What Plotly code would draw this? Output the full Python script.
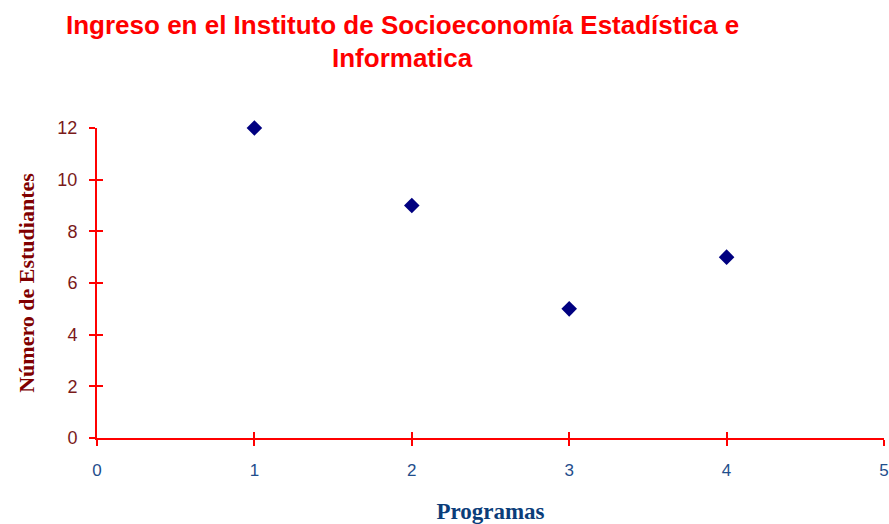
import plotly.graph_objects as go

programas = [1, 2, 3, 4]
estudiantes = [12, 9, 5, 7]
x_ticks = [0, 1, 2, 3, 4, 5]
y_ticks = [0, 2, 4, 6, 8, 10, 12]
title_lines = ["Ingreso en el Instituto de Socioeconomía Estadística e", "Informatica"]

RED = "#ff0000"
W, H = 889, 524
L, R, T, B = 97, 5, 128, 86

fig = go.Figure()
fig.add_trace(go.Scatter(
    x=programas, y=estudiantes, mode="markers", cliponaxis=False,
    marker=dict(symbol="diamond", size=12, color="#000080"),
    showlegend=False, hoverinfo="x+y"))
fig.add_trace(go.Scatter(x=[0], y=[0], xaxis="x2", yaxis="y2", mode="markers",
                         marker=dict(opacity=0), showlegend=False, hoverinfo="skip"))

title_font = dict(family="Liberation Sans Narrow, Arial Narrow, Liberation Sans, sans-serif",
                  size=26, color=RED)
annotations = []
for line, ypix in zip(title_lines, [25, 58]):
    annotations.append(dict(
        text="<b>" + line + "</b>", xref="paper", yref="paper",
        x=(402 - L) / (W - L - R), y=1 + (T - ypix) / (H - T - B),
        xanchor="center", yanchor="middle", showarrow=False, font=title_font))

fig.update_layout(
    width=W, height=H,
    paper_bgcolor="white", plot_bgcolor="white",
    margin=dict(l=L, r=R, t=T, b=B, autoexpand=False),
    annotations=annotations,
    xaxis=dict(
        range=[0, 5], tickvals=x_ticks, showgrid=False, zeroline=False, automargin=False,
        showline=True, linecolor=RED, linewidth=2,
        ticks="outside", ticklen=6, tickcolor=RED, tickwidth=2,
        ticklabelstandoff=10,
        tickfont=dict(family="Liberation Sans, Arial, sans-serif", size=17, color="#1f4e8c"),
        title=dict(text="<b>Programas</b>", standoff=24,
                   font=dict(family="Liberation Serif, Times New Roman, serif", size=23, color="#0b3d7a"))),
    yaxis=dict(
        range=[0, 12], tickvals=y_ticks, showgrid=False, zeroline=False, automargin=False,
        showline=True, linecolor=RED, linewidth=2,
        ticks="outside", ticklen=6, tickcolor=RED, tickwidth=2,
        ticklabelstandoff=8,
        tickfont=dict(family="Liberation Sans, Arial, sans-serif", size=18, color="#7a1a1a"),
        title=dict(text="<b>Número de Estudiantes</b>", standoff=17,
                   font=dict(family="Liberation Serif, Times New Roman, serif", size=22, color="#800000"))),
    xaxis2=dict(range=[0, 5], overlaying="x", tickvals=x_ticks, showticklabels=False,
                showgrid=False, zeroline=False, ticks="inside", ticklen=6, automargin=False,
                tickcolor=RED, tickwidth=2, side="bottom", anchor="y2"),
    yaxis2=dict(range=[0, 12], overlaying="y", tickvals=y_ticks, showticklabels=False,
                showgrid=False, zeroline=False, ticks="inside", ticklen=6, automargin=False,
                tickcolor=RED, tickwidth=2, side="left", anchor="x2"),
)
fig.write_html("out.html", config={"displayModeBar": False},
               post_script="document.body.style.margin='0';")
